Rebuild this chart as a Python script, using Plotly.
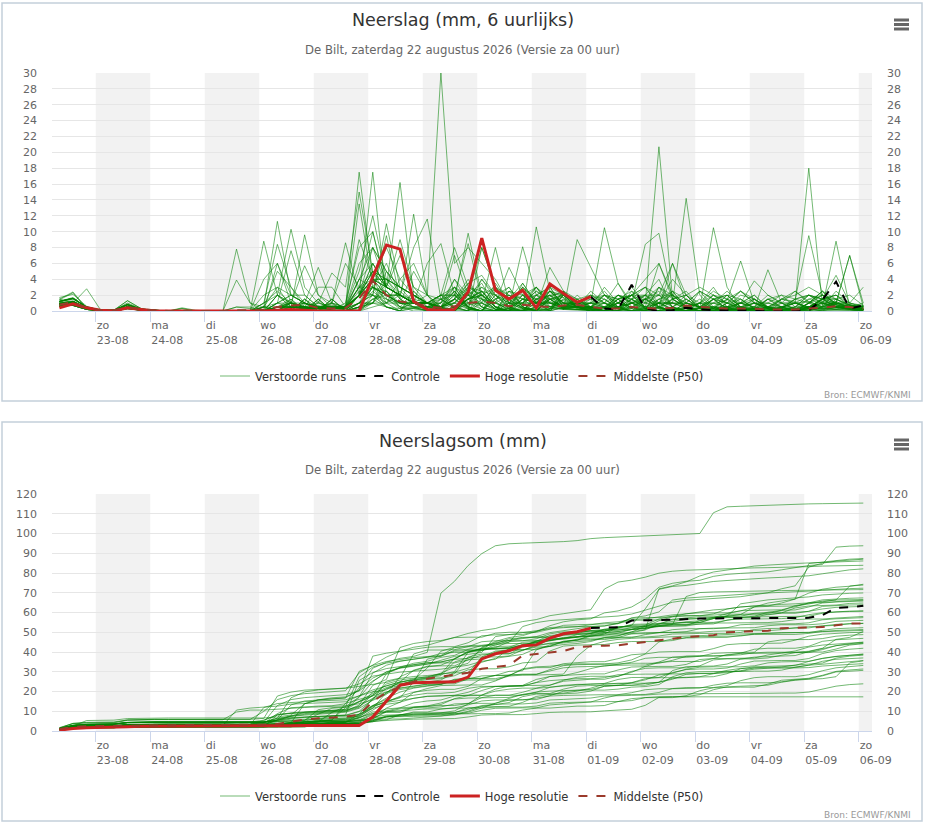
import numpy as np
import pandas as pd
import plotly.graph_objects as go
from plotly.subplots import make_subplots

# 6-hourly steps (local time), first step 22-08 08:00
times = pd.date_range("2026-08-22 08:00", periods=60, freq="6h")
day_ticks = pd.date_range("2026-08-23", "2026-09-06", freq="D")
tick_labels = ["zo<br>23-08", "ma<br>24-08", "di<br>25-08", "wo<br>26-08", "do<br>27-08",
               "vr<br>28-08", "za<br>29-08", "zo<br>30-08", "ma<br>31-08", "di<br>01-09",
               "wo<br>02-09", "do<br>03-09", "vr<br>04-09", "za<br>05-09", "zo<br>06-09"]
shaded_days = ["2026-08-23", "2026-08-25", "2026-08-27", "2026-08-29",
               "2026-08-31", "2026-09-02", "2026-09-04", "2026-09-06"]

# ensemble members, mm per 6 hours
m01 = [0.9, 1.1, 0.4, 0.1, 0, 0.5, 0.2, 0.1, 0, 0, 0, 0, 0,
       0, 0, 0.5, 5, 3, 0.5, 0.3, 0.2, 1,
       8, 10, 3, 2, 1, 2,
       30, 6, 8, 6, 4, 1, 0.3, 0.2, 0.3, 0.3, 0.5,
       1, 0.5, 0.3, 0.5, 0.2, 0.3, 0.2, 0.3, 0.3, 10.5, 3, 0.3, 0.3, 0.3, 0.2, 0.2, 0.2, 0.1, 0.2, 0.1, 0]
m02 = [1.2, 1.6, 0.5, 0.1, 0.1, 0.8, 0.2, 0, 0, 0, 0, 0, 0,
       0, 0, 1, 2.5, 1, 0.5, 0.5, 0.3, 0.5,
       4, 3, 6, 2, 1, 0.5,
       2, 3, 2, 8, 3, 2, 1, 2, 3, 2, 1,
       0.5, 3, 1, 2, 4, 6, 2, 1, 0.5, 2, 1, 0.5, 0.3, 0.5, 1, 1, 1.2, 0.5, 8.8, 0.5, 0.2]
m03 = [1.5, 1.0, 2.8, 0.2, 0, 0.8, 0.2, 0.1, 0, 0, 0, 0, 0,
       0, 0, 0, 0.5, 1, 5.7, 2, 1, 0.5,
       3, 5, 4, 3, 2, 1,
       2, 1, 3, 2, 1, 0.5, 8.1, 2, 1, 0.5, 0.5,
       0.5, 0.5, 0.3, 1, 2, 2, 2, 1, 0.5, 0.5, 0.3, 0.5, 1, 1, 2, 1.5, 9.5, 2, 1, 0.5, 0.5]
m04 = [0.6, 0.8, 0.3, 0, 0, 0.4, 0.1, 0.1, 0, 0, 0, 0, 0,
       0, 0, 0.5, 3, 2, 1, 0.5, 0.5, 0.5,
       2, 6, 3, 2, 1, 0.5,
       1, 4, 2, 3, 2, 1, 1, 3, 1, 1, 0.5,
       1, 2, 1, 2, 1, 20.7, 1.5, 2, 3, 2, 1, 1, 1, 0.5, 0.5, 0.3, 0.3, 0.2, 0.5, 0.2, 0.1]
m05 = [1.7, 2.1, 0.6, 0.1, 0.1, 1.0, 0.3, 0, 0, 0, 0, 0, 0,
       0, 0, 4, 6, 2, 1, 0.5, 0.5, 0.5,
       9, 4, 4, 3, 2, 1,
       2, 2, 2, 1.5, 1, 2, 1.5, 1, 2, 1, 1,
       1, 10.5, 3.5, 1, 1.5, 2, 1, 0.5, 0.3, 0.3, 0.2, 0.2, 0.2, 0.1, 0.1, 0.1, 0.3, 0.3, 0.2, 0.2, 0]
m06 = [1.0, 1.3, 0.4, 0.1, 0, 0.6, 0.2, 0.1, 0, 0, 0, 0, 0,
       0.5, 0.3, 0, 1, 2, 2, 0.5, 0.5, 0.5,
       6, 8, 5, 2, 1.5, 1,
       0.5, 1.5, 3.5, 1.5, 0.3, 0, 1, 2.5, 1.2, 0.5, 0.5,
       0.5, 0.5, 1, 2, 2, 1, 1, 1, 0.5, 0.5, 0.5, 1, 3.8, 2, 1, 1, 18, 0.7, 1, 0.5, 0.3]
m07 = [1.2, 1.7, 0.5, 0.1, 0.1, 0.7, 0.2, 0, 0, 0, 0, 0, 0,
       0, 0, 0, 2, 1, 0.5, 0.5, 0.5, 0.5,
       2, 4, 3, 9, 3, 2,
       0.5, 0, 3, 2.5, 0.5, 0, 3.5, 1, 2.5, 0.5, 1,
       2, 1, 2, 1, 8.4, 9.8, 1.5, 0.5, 1, 1, 0.5, 0.5, 0.3, 0.5, 0.3, 0.3, 0.5, 1, 1, 1, 0.5]
m08 = [0.6, 0.9, 0.3, 0, 0, 0.4, 0.1, 0, 0, 0.4, 0.1, 0, 0,
       7.8, 1, 0.5, 0.5, 1, 0.3, 0.3, 0.3, 0.3,
       3, 2, 1, 4, 6, 2,
       0.5, 3, 0.5, 4, 2, 0.3, 0, 1.5, 2, 0.2, 2,
       0.5, 2, 1.5, 0, 0, 3, 2, 0.5, 0, 1, 2.5, 1, 0.5, 0, 1.5, 2, 3, 2, 1, 0.5, 1]
m09 = [0.9, 1.0, 0.4, 0.1, 0, 0.5, 0.2, 0, 0, 0, 0, 0, 0,
       0, 0, 8.8, 2, 0.5, 0.5, 0.3, 0.3, 0.3,
       2, 3, 2, 2, 1, 1,
       2, 8, 3, 2, 3, 1, 1, 1, 2, 1, 1,
       1, 0.5, 1, 3, 1, 2, 6, 1, 0.5, 0.5, 0.5, 0.5, 0.3, 0.3, 0.2, 0.2, 0.5, 0.5, 0.5, 0.3, 0.2]
m10 = [1.5, 2.4, 0.3, 0, 0.1, 1.3, 0.3, 0, 0, 0, 0, 0, 0,
       0, 0, 0.5, 11.3, 2, 1, 0.3, 0.3, 0.3,
       1, 1, 1, 2, 1, 0.5,
       0.5, 1.5, 9.8, 2, 0.2, 0, 1, 2.5, 1.5, 1.3, 0.5,
       0.5, 0.5, 0.5, 1, 0.5, 1, 1, 14.2, 2, 0.3, 0.2, 0.2, 0.1, 0.1, 0.1, 0.1, 0.1, 0.1, 0.1, 0.1, 0]
m11 = [1.1, 1.5, 0.5, 0.1, 0.1, 0.8, 0.3, 0.1, 0, 0, 0, 0, 0,
       0, 0, 0, 2, 10.3, 3, 1, 0.5, 0.5,
       2, 4, 1, 1, 0.5, 0.5,
       0.5, 1, 1, 2, 1, 5.5, 2, 1, 1, 1, 1,
       1, 1, 0.5, 1, 1, 1, 1, 1, 0.5, 1, 1.3, 6.3, 1, 1, 0.5, 0.5, 0.5, 1, 0.5, 0.3, 0.2]
m12 = [0.8, 1.2, 0.4, 0.1, 0, 0.5, 0.2, 0, 0, 0, 0, 0, 0,
       0, 0, 0, 0.5, 0.5, 9.6, 2, 0.5, 0.5,
       4, 6, 3, 2, 1, 1,
       2, 2, 1, 1, 8, 1, 1, 1, 1, 0.5, 0.5,
       1, 1, 0.5, 1, 0.5, 1, 1, 0.5, 1, 1, 0.5, 1, 0.5, 0.5, 0.3, 0.3, 0.5, 0.5, 1, 7, 0.5]
m13 = [0.8, 0.7, 0.2, 0, 0, 0.3, 0.1, 0, 0, 0, 0, 0, 0,
       0, 0, 0, 0.5, 0.5, 0.5, 1, 4.8, 3,
       15, 5, 2, 1, 1, 1,
       0.5, 2.5, 0.3, 0, 1.5, 3, 0.5, 0.2, 0, 1.5, 0.5,
       0.2, 1, 3.5, 0.5, 0, 1, 2.5, 0.3, 0, 0.5, 2, 1.5, 0.2, 0, 0.3, 1.5, 2, 1.5, 0.5, 0.3, 0.2]
m14 = [1.0, 1.2, 0.4, 0.1, 0, 0.5, 0.2, 0.1, 0, 0, 0, 0, 0,
       0, 0, 1, 8.4, 3, 1, 0.5, 0.5, 0.5,
       2, 17.5, 1.5, 1, 1, 1,
       0.3, 0, 2, 3.5, 0.5, 0, 0.2, 1.5, 2, 0.3, 0.2,
       0.2, 0, 1.5, 2.5, 0.3, 0, 0.5, 1.5, 0.4, 0, 0, 1, 2, 0.3, 0, 0.2, 1, 1.5, 0.5, 0.2, 0.1]
m15 = [1.3, 1.6, 0.5, 0.1, 0.1, 0.8, 0.2, 0, 0, 0, 0, 0, 0,
       0, 0, 0, 1, 7.6, 2, 0.5, 0.5, 0.5,
       13.5, 3, 2, 1, 1, 0.5,
       0.5, 4, 1, 0.2, 0, 2.5, 1.5, 0.3, 0, 2, 0.5,
       0, 0.3, 2, 1, 0.2, 3, 1.5, 0.3, 0, 0.2, 0.5, 0, 0, 0.3, 1.5, 2.5, 1.2, 0.5, 0.2, 0.5, 0.3]
m16 = [0.9, 1.1, 0.4, 0.1, 0, 0.6, 0.2, 0, 0, 0, 0, 0, 0,
       0, 0, 0, 0.5, 0.5, 1, 5.5, 1, 0.5,
       5, 12, 4, 2, 1, 1,
       2, 0.5, 0, 1, 3, 0.5, 0, 0.3, 2.5, 1.7, 0.5,
       0.3, 2, 0.5, 0, 0, 1, 0.3, 0, 2.5, 1.5, 0.2, 0, 0.5, 2, 1, 0.2, 1.5, 2, 0.5, 0.3, 0.2]
m17 = [0.7, 0.8, 0.3, 0, 0, 0.4, 0.1, 0.1, 0, 0, 0, 0, 0,
       0, 0, 0, 0.5, 0.5, 0.5, 0.5, 1, 8.6,
       2, 2, 11, 3, 1, 1,
       0.5, 0, 1.5, 0.5, 3.5, 1, 0.2, 0, 1.8, 2.5, 0.5,
       2.5, 1, 0.2, 0, 1.5, 3, 0.5, 0, 0.3, 2, 1.5, 0.3, 0, 0, 1, 2.5, 1, 0.3, 0.2, 0.8, 0.2]
m18 = [1.2, 1.5, 0.5, 0.1, 0.1, 0.9, 0.2, 0, 0, 0, 0, 0, 0,
       0, 0, 0, 1, 1, 0.5, 0.3, 0.3, 0.5,
       17.5, 4, 2, 1, 1, 1,
       0.3, 1.5, 4, 1, 0.2, 0, 2, 1.5, 0.5, 1.5, 0.5,
       0.5, 0, 0, 2, 3, 0.5, 0, 0.3, 1, 2, 0.5, 0, 0.2, 1.5, 0.5, 0, 1, 2.5, 0.5, 0.2, 0.1]
m19 = [0.9, 1.2, 0.4, 0.1, 0, 0.5, 0.2, 0.1, 0, 0, 0, 0, 0,
       0, 0, 2, 3, 0.5, 0.3, 0.3, 0.3, 0.3,
       3, 10, 3, 16.2, 2, 1,
       0.5, 1.5, 0.2, 0, 2, 0.5, 0, 0, 1.5, 2, 0.3,
       0.2, 0, 0.5, 1.5, 0.3, 0, 0, 1, 0.5, 0, 0, 0.3, 1.5, 0.5, 0, 0, 0.5, 1.2, 0.8, 0.3, 0.2]
m20 = [1.4, 2.3, 0.3, 0, 0.1, 1.3, 0.3, 0, 0, 0, 0, 0, 0,
       3.9, 1, 0, 0.5, 0.5, 0.3, 0.3, 0.3, 0.3,
       1, 2, 9.5, 1.5, 12.2, 2,
       0, 0.2, 1.5, 2.5, 0.5, 0, 0, 1, 2.5, 1, 0.3,
       0, 0, 1.5, 2, 0.3, 0, 0.2, 0.5, 0, 0, 1, 1.5, 0.3, 0, 0, 0, 0.3, 1.5, 0.7, 0.2, 0.1]
m21 = [0.9, 1.0, 0.4, 0.1, 0, 0.5, 0.2, 0, 0, 0.3, 0, 0, 0,
       0, 0, 0, 2, 1, 0.5, 0.3, 0.3, 0.3,
       2, 3, 2, 2, 8, 11.6,
       1.5, 3, 0.5, 0, 0, 1, 2.5, 0.5, 3, 0.5, 0.5,
       1.5, 0.5, 0, 0, 0.5, 1.5, 0.5, 0, 0, 0.3, 2, 0.5, 0, 0, 0.2, 0.5, 1.5, 1, 0.5, 0.3, 0.2]
m22 = [1.2, 1.6, 0.4, 0.1, 0.1, 0.8, 0.2, 0, 0, 0, 0, 0, 0,
       0, 0, 0, 1, 2, 1, 0.5, 0.5, 0.5,
       2, 8, 3, 2, 1, 6,
       8.5, 2, 0.3, 0, 1.5, 2.5, 0.5, 0, 0.2, 2, 1,
       0.5, 0, 0, 1.5, 0.5, 0, 0, 0.3, 1, 0.5, 0, 0, 0, 0.2, 0.5, 1, 0.3, 0, 0.5, 0.5, 0.3]
m23 = [0.6, 0.8, 0.3, 0, 0, 0.4, 0.1, 0, 0, 0.3, 0, 0, 0,
       0, 0, 0, 0, 1, 1, 0.5, 0.5, 0.5,
       2, 5, 3, 7, 3, 1,
       1, 7, 2, 0.5, 0, 0.5, 3, 1.5, 0.3, 2.5, 0.7,
       2, 1, 0, 0, 0.3, 0.5, 1.5, 0.5, 0, 0, 0.5, 1.5, 0.3, 0, 0, 0.2, 0.5, 1.5, 0.5, 0.3, 0.3]
m24 = [1.0, 1.1, 0.4, 0.1, 0, 0.5, 0.2, 0, 0, 0, 0, 0, 0,
       0, 0, 0.5, 1, 0.5, 0.3, 0.3, 0.3, 0.3,
       1, 4, 8, 4, 2, 1,
       0.5, 2, 8.5, 1.5, 0.2, 0, 1.5, 3, 0.5, 1, 0.8,
       0.3, 0, 1, 2, 0.5, 0, 0, 0.5, 1.5, 0.3, 0, 0, 0.2, 1, 0.5, 0, 0, 0.5, 1.2, 0.3, 0.2]
m25 = [0.8, 0.7, 0.2, 0, 0, 0.3, 0.1, 0, 0, 0, 0, 0, 0,
       0, 0, 0, 0.5, 0.5, 0.5, 0.3, 0.3, 0.3,
       4, 8, 5, 3, 2, 1,
       1.5, 0.5, 0, 8, 3, 0.5, 0, 2, 1.5, 0.5, 1.5,
       0.5, 0, 0, 0.3, 1.5, 1, 0.2, 0, 0, 0.5, 0.3, 0, 0, 0, 0.5, 1, 0.5, 0.2, 0.5, 0.8, 0.2]
m26 = [0.9, 1.2, 0.4, 0.1, 0, 0.5, 0.2, 0, 0, 0, 0, 0, 0,
       0, 0, 0, 0, 0.5, 1, 0.3, 0.3, 0.3,
       2, 5, 4, 3, 2, 1,
       1, 2.5, 0.5, 0, 1.5, 2, 0.3, 10.6, 2.5, 1, 0.7,
       0.5, 1.5, 0.3, 0, 0, 0.5, 1, 0.3, 0, 0, 0, 0.5, 1.5, 0.5, 0, 0, 0.3, 1, 0.8, 0.3, 0.2]
m27 = [1.2, 1.6, 0.5, 0.1, 0.1, 0.8, 0.2, 0, 0, 0, 0, 0, 0,
       0, 0, 0, 0, 0.5, 0.5, 3, 3, 0.5,
       3, 4, 3, 2, 1, 1,
       0.5, 1.5, 3, 0.5, 0, 1, 2, 0.5, 5.5, 2.5, 0.5,
       0, 0.3, 1, 0.5, 0, 0, 0.5, 1.5, 0.5, 0, 0, 0.3, 1, 0.5, 0.2, 0, 0, 1.2, 0.8, 0.3, 0.2]
m28 = [0.9, 1.1, 0.4, 0.1, 0, 0.5, 0.2, 0, 0, 0, 0, 0, 0,
       0, 0, 0, 0.5, 0.5, 0.3, 0.3, 1, 6,
       3, 3, 2, 2, 1, 1,
       0, 1.5, 0.5, 0, 0, 2, 0.5, 0, 0.3, 0.2, 9,
       5.6, 2, 1, 0.5, 0.3, 0.3, 0.3, 0.3, 0.3, 0.3, 0.3, 0.3, 0.1, 0.1, 0.1, 0.1, 0.3, 0.3, 0.3, 0.2, 0.1]
m29 = [0.6, 0.8, 0.3, 0, 0, 0.4, 0.1, 0, 0, 0, 0, 0, 0,
       0, 0, 0, 6, 1, 0.5, 0.3, 0.3, 0.3,
       2, 4, 3, 2, 1, 1,
       0.3, 0, 2.5, 1.5, 0.2, 0, 3, 1, 0, 2, 0.5,
       0.5, 0, 1.5, 2, 0.5, 6, 1.5, 0.5, 0, 0, 0.3, 1, 0.5, 0, 0, 0, 0.5, 1, 0.5, 0.3, 0.2]
m30 = [1.0, 1.1, 0.4, 0.1, 0, 0.5, 0.2, 0, 0, 0, 0, 0, 0,
       0, 0, 1, 2, 0.5, 0.3, 0.3, 0.3, 0.3,
       2, 6, 3, 2, 1, 1,
       0.5, 2.5, 0.5, 0, 0, 1.5, 3.5, 1, 0.3, 0.7, 0.5,
       0, 0, 0.5, 1.5, 3, 1, 0.2, 0, 0, 1.5, 2, 0.5, 0, 0, 0.3, 1.5, 2, 1, 0.5, 0.3, 0.2]
m31 = [0.8, 0.7, 0.2, 0, 0, 0.3, 0.1, 0, 0, 0, 0, 0, 0,
       0.5, 0.5, 0, 0, 1.2, 0.3, 0, 0, 0,
       2, 4, 4, 3, 2, 1,
       0.5, 0, 1.5, 4, 1.5, 0.3, 0, 0.2, 2.5, 2, 0.5,
       0.2, 0, 0, 1, 2, 0.5, 0, 0, 0.5, 1.5, 0.3, 0, 0.3, 5.2, 1, 0.2, 0, 0.5, 1.2, 0.5, 0.3]
m32 = [0.9, 1.1, 0.4, 0.1, 0, 0.5, 0.2, 0, 0, 0, 0, 0, 0,
       0, 0, 0, 0, 0, 1.5, 0.4, 0, 0,
       2, 5, 3, 2, 1, 1,
       0, 0.5, 2, 1, 0, 0, 0.5, 3, 1.5, 0.5, 1.5,
       2, 1.5, 0.3, 0, 0, 1.5, 2.5, 0.5, 0, 0, 0.5, 1, 2, 0.5, 0, 0, 1, 2.5, 0.8, 0.5, 0.2]
m33 = [1.2, 1.6, 0.5, 0.1, 0.1, 0.8, 0.2, 0, 0, 0, 0, 0, 0,
       0, 0, 0, 0.5, 1, 0, 0, 1.5, 0,
       1, 3, 2, 1, 5, 2,
       1.5, 0.3, 0, 0, 2, 3, 0.5, 0, 1.5, 1.7, 0.5,
       0.3, 0, 1, 0.5, 0, 0, 1.5, 2, 0.3, 0, 0, 0.5, 1, 0.3, 0, 0, 0.5, 1.5, 4.5, 1, 3]
m34 = [0.9, 1.1, 0.4, 0.1, 0, 0.5, 0.2, 0, 0, 0, 0, 0, 0,
       0, 0, 0.5, 0, 0, 0, 1.5, 0, 0,
       0.5, 3, 2.5, 0.5, 2.5, 1,
       0.5, 2, 0.5, 0, 3, 1.5, 0.3, 0, 0.2, 2.5, 1.5,
       0.5, 0, 0, 2.5, 1.5, 0.3, 0, 0, 1, 3, 0.5, 0, 0, 0.5, 1.5, 1.2, 0.3, 0, 1.5, 2, 0.7]
m35 = [0.6, 0.8, 0.3, 0, 0, 0.4, 0.1, 0.1, 0, 0, 0, 0, 0,
       0, 0, 0, 0, 0, 0.5, 0, 0.9, 0,
       0, 2, 1.5, 0.3, 1, 0.2,
       0.5, 1, 3.5, 4.5, 2, 1, 0.5, 0, 1.5, 2, 0.5,
       0.5, 0, 1.5, 2, 3, 2, 0.5, 0, 0, 1.5, 2, 0.5, 0, 0, 0.3, 1, 2, 1, 0.5, 0.7, 0.3]
m36 = [0.9, 1.0, 0.4, 0.1, 0, 0.5, 0.2, 0, 0, 0, 0, 0, 0,
       0, 0, 0, 0, 0, 0, 0.5, 1, 0,
       1, 1, 5, 3, 2, 1,
       0, 0.5, 1.5, 2.5, 0.5, 0, 0, 2, 3, 0.5, 0.5,
       0.3, 0, 2, 1.5, 0.3, 0, 0, 1, 2.5, 0.5, 0, 0, 0.3, 1.5, 1, 0.2, 0, 1.5, 2, 1, 0.7]
m37 = [0.8, 0.7, 0.2, 0, 0, 0.3, 0.1, 0, 0, 0, 0, 0, 0,
       0, 0, 0, 0.5, 1.5, 0, 0, 0, 0,
       0.5, 2.5, 1, 0, 1.5, 0,
       1.5, 0.5, 0, 0, 2.5, 1.5, 0.3, 0, 2, 2.2, 0.5,
       0.5, 1.5, 0.5, 0, 1, 0.5, 6, 2, 0.3, 0, 1, 2.5, 1, 0.3, 0, 0.5, 2, 1.5, 1.5, 0.7, 0.5]
m38 = [1.0, 1.2, 0.4, 0.1, 0, 0.5, 0.2, 0, 0, 0, 0, 0, 0,
       0, 0, 0, 0, 1, 0, 1.2, 0, 0,
       1, 3, 0.5, 0, 2, 0.5,
       0.3, 0, 1, 3, 1.2, 0, 0, 1.5, 2.5, 1, 0.5,
       0, 0.5, 2, 1, 0, 0, 2.5, 1.5, 0.3, 0, 0.5, 2, 1.5, 0.3, 0, 0, 1, 2.5, 1.5, 0.7, 0.5]
m39 = [0.6, 0.8, 0.3, 0, 0, 0.4, 0.1, 0, 0, 0, 0, 0, 0,
       0, 0, 0, 0, 0, 1.5, 0, 0, 0,
       0, 1.5, 2.5, 0.5, 0, 0,
       0, 1, 2.5, 0.5, 0, 0.3, 2, 3, 1, 0.2, 0.5,
       1, 2.5, 0.5, 0, 0, 1.5, 2, 0.5, 0, 0.3, 1.5, 2.5, 1, 0.2, 0, 0.5, 2, 1.5, 1, 0.8, 0.5]
m40 = [0.9, 1.1, 0.4, 0.1, 0, 0.5, 0.2, 0, 0, 0, 0, 0, 0,
       0, 0, 0, 0, 0, 0, 0, 0.7, 0.5,
       2.5, 2, 0.5, 0, 2.5, 0.5,
       1, 3, 1.5, 0.2, 0, 0, 1.5, 2, 0.5, 0.8, 0.5,
       0.5, 0, 0, 0.5, 1.5, 2.5, 0.5, 0, 0, 0.3, 1.5, 1, 0.2, 0, 0.5, 1, 0.5, 0.5, 2.5, 1, 0.5]
m41 = [1.2, 1.6, 0.5, 0.1, 0.1, 0.8, 0.2, 0, 0, 0, 0, 0, 0,
       0, 0, 0, 0.5, 0, 0, 1.5, 0, 0,
       2, 4, 2, 1, 1, 1,
       0.5, 0, 0, 2.5, 2, 0.5, 0, 1.5, 1, 0.5, 0.5,
       0, 0.5, 1.5, 0.3, 0, 0, 0.5, 2, 1, 0.2, 0, 0, 0.5, 1.5, 0.5, 0, 0.3, 1.5, 1, 0.5, 0.5]
m42 = [0.9, 1.1, 0.4, 0.1, 0, 0.5, 0.2, 0, 0, 0, 0, 0, 0,
       0, 0, 0, 0, 0.5, 1, 0, 0, 0,
       0.5, 1, 3.5, 1.5, 0.5, 0,
       0.5, 1.5, 0.3, 0, 0, 2.5, 2, 0.5, 0, 2.2, 1.5,
       0.3, 0, 0, 1.5, 2, 0.5, 0, 0, 0.5, 1.5, 1, 0.3, 0, 0, 0.5, 1.5, 1, 0.5, 0.8, 0.5, 0.6]
m43 = [0.6, 0.8, 0.3, 0, 0, 0.4, 0.1, 0, 0, 0, 0, 0, 0,
       0, 0, 0.5, 0, 0, 0, 0, 1.5, 0,
       0, 0.5, 1, 2.5, 1, 0,
       0.2, 0, 1.5, 2, 0.5, 1, 3, 1.3, 0, 0.5, 1,
       1.5, 2, 0.5, 0, 0, 0.5, 1.5, 2.5, 0.5, 0, 0.3, 1, 1.5, 0.3, 0, 0, 1, 2, 1, 0.5, 0.2]
m44 = [0.8, 0.7, 0.2, 0, 0, 0.3, 0.1, 0, 0, 0, 0, 0, 0,
       0, 0, 0, 0, 0, 1.5, 0, 0, 0,
       1, 2, 0.5, 0, 0.3, 0.2,
       0, 0.5, 1.5, 2, 0.5, 0, 0, 0.5, 1.5, 0.3, 0.2,
       0.3, 0, 0, 0.5, 1.5, 0.5, 0, 0, 1, 2.5, 1.5, 0.3, 0, 0.5, 1.5, 1, 0.5, 0.3, 1, 7, 1]
m45 = [0.9, 1.1, 0.4, 0.1, 0, 0.5, 0.2, 0, 0, 0, 0, 0, 0,
       0, 0, 0, 0, 0, 0, 0, 1.5, 0,
       0.5, 1, 4, 1.5, 0.5, 0.5,
       1.5, 2, 0.5, 0, 0, 0.3, 1.5, 1.2, 0.5, 0.3, 0.2,
       0, 0, 0.5, 1, 0.3, 1, 4, 2, 0.5, 0, 0, 0.3, 1, 0.5, 0, 0, 0.3, 0.8, 0.5, 0.5, 0.2]
m46 = [0.6, 0.8, 0.3, 0, 0, 0.4, 0.1, 0, 0, 0, 0, 0, 0,
       0, 0, 0, 0, 1.5, 0, 0, 0, 0,
       0, 1, 2.5, 1, 0.5, 0,
       0.3, 0, 0, 1.5, 1, 0.2, 0, 0, 1.5, 0.5, 0.5,
       0.5, 2, 1.5, 0.3, 0, 1, 2, 0.5, 0, 0, 1, 2.5, 1.5, 0.5, 0, 0, 1, 2, 1.5, 0.5, 0.7]
m47 = [0.8, 0.7, 0.2, 0, 0, 0.3, 0.1, 0, 0, 0, 0, 0, 0,
       0, 0, 0, 0, 0, 0, 1.5, 0, 0,
       0.5, 1.5, 0.5, 0, 0.5, 0.5,
       0.5, 1, 0.2, 0, 0, 0.3, 1.5, 1, 0, 0.5, 0.5,
       0, 0.3, 2, 1.5, 0.5, 0, 0, 1, 2.5, 1.5, 0.3, 0, 0, 1.5, 2, 0.5, 0.5, 1.5, 2, 0.7, 0.5]
m48 = [0.9, 1.1, 0.4, 0.1, 0, 0.5, 0.2, 0, 0, 0, 0, 0, 0,
       0, 0, 0, 0, 0, 0.8, 0.7, 0, 0,
       0.5, 3, 1.5, 0.5, 0.5, 0.5,
       0, 0.5, 1.5, 2, 0.5, 0, 0, 1, 1, 0.3, 0.2,
       0.2, 0, 0, 1, 1.5, 0.5, 0, 0, 0.3, 1.5, 1, 0.2, 0, 0, 0.5, 1, 0.5, 1.5, 2, 0.5, 0.3]
m49 = [0.6, 0.8, 0.3, 0, 0, 0.4, 0.1, 0, 0, 0, 0, 0, 0,
       0, 0, 0, 0, 1, 0.5, 0, 0, 0,
       0, 1.5, 2, 0.5, 0.3, 0.2,
       0.3, 0, 1.5, 2.5, 1, 0.2, 0, 0.5, 1.5, 0.3, 0.2,
       0.5, 1, 0.3, 0, 0.2, 0.5, 0.1, 0, 0, 0.1, 0.1, 0, 0, 0.1, 0.1, 0, 0.5, 1.5, 1.5, 0.8, 0.4]
m50 = [0.8, 0.7, 0.2, 0, 0, 0.3, 0.1, 0, 0, 0, 0, 0, 0,
       0, 0, 0, 0, 0, 0, 1, 0.5, 0,
       0.3, 1, 0.5, 0.3, 0.3, 0,
       0, 0.3, 0.8, 1, 0.2, 0, 0, 0.5, 0.6, 0.2, 0.1,
       0, 0.5, 0.5, 0.3, 2, 4, 0.3, 0, 0, 0, 0, 0, 0, 0, 0, 0, 0, 0, 0, 0, 0]

runs = [m01, m02, m03, m04, m05, m06, m07, m08, m09, m10,
        m11, m12, m13, m14, m15, m16, m17, m18, m19, m20,
        m21, m22, m23, m24, m25, m26, m27, m28, m29, m30,
        m31, m32, m33, m34, m35, m36, m37, m38, m39, m40,
        m41, m42, m43, m44, m45, m46, m47, m48, m49, m50]

# high resolution run (10 days), control run after that
hres_6h = [0.4, 0.9, 0.4, 0.1, 0, 0.4, 0.2, 0, 0, 0, 0, 0, 0,
           0, 0, 0, 0.1, 0.2, 0.1, 0, 0, 0,
           0, 4.3, 8.3, 7.8, 1.2, 0.2,
           0.1, 0.2, 2.4, 9.2, 2.6, 1.5, 2.6, 0.4, 3.4, 2.2, 1.1,
           1.8]
ctrl_6h = [1.8, 0.3, 0.2, 3.3, 0.3, 0, 0.1, 0.4, 0.2, 0.1, 0.1,
           0.1, 0, 0, 0, 0, 0.1, 1.4, 3.7, 0.3, 0.7]

# median of the members
p50_6h = [0.8, 1.1, 0.4, 0.1, 0.1, 0.5, 0.2, 0.1, 0, 0, 0, 0, 0,
          0.1, 0.1, 0.2, 0.5, 0.7, 0.8, 0.4, 0.3, 0.4,
          1.6, 3.8, 2.0, 1.2, 1.0, 0.6,
          0.4, 0.6, 1.0, 1.2, 1.0, 0.6, 0.8, 0.6, 0.5, 0.7, 0.8,
          0.5, 0.3, 0.3, 0.5, 0.4, 0.3, 0.4, 0.7, 0.5, 0.4, 0.3, 0.3, 0.3, 0.2, 0.2, 0.2, 0.3, 0.4, 0.6, 0.5, 0.3]
p50_sum = [1.0, 2.0, 2.4, 2.5, 2.6, 2.8, 2.9, 3.0, 3.0, 3.0, 3.0, 3.0, 3.0,
           3.0, 3.1, 3.2, 3.6, 4.6, 5.8, 6.4, 6.8, 7.2,
           8.2, 15, 19.5, 22.5, 25, 26.5,
           27.5, 28.5, 29.5, 31.5, 32.3, 33.3, 38.2, 39, 39.6, 40.5, 42.5,
           43, 43.2, 43.4, 44.2, 45.3, 46, 47, 47.6, 48, 48.5, 50, 50.2, 50.4, 50.8, 52, 52.2, 52.3, 52.6, 53.5, 54.4, 54.5]

hres_sum = np.cumsum(hres_6h)
ctrl_sum = np.concatenate([[hres_sum[-1]], hres_sum[-1] + np.cumsum(ctrl_6h[1:])])
hres_t = times[:len(hres_6h)]
ctrl_t = times[len(hres_6h) - 1:]

W, H = 929, 826
ML, MR, MT, MB = 52, 57, 73, 95


def px(x):
    return (x - ML) / (W - ML - MR)


def py(y):
    return (H - MB - y) / (H - MT - MB)


GREEN = "rgba(0,128,0,0.55)"
RED = "#cc2222"
P50C = "#9b3a2b"
FONT = "DejaVu Sans"

fig = make_subplots(rows=2, cols=1, specs=[[{"secondary_y": True}], [{"secondary_y": True}]])

for row, leg, series in [(1, "legend", runs), (2, "legend2", [np.cumsum(r) for r in runs])]:
    for i, r in enumerate(series):
        fig.add_trace(go.Scatter(x=times, y=r, mode="lines", name="Verstoorde runs",
                                 line=dict(color=GREEN, width=1), legendgroup="runs" + str(row),
                                 showlegend=(i == 0), legend=leg, hoverinfo="skip"),
                      row=row, col=1)

for row, leg, c, h, p in [(1, "legend", ctrl_6h, hres_6h, p50_6h),
                          (2, "legend2", ctrl_sum, hres_sum, p50_sum)]:
    fig.add_trace(go.Scatter(x=ctrl_t, y=c, mode="lines", name="Controle",
                             line=dict(color="black", width=2, dash="dash"), legend=leg),
                  row=row, col=1)
    fig.add_trace(go.Scatter(x=hres_t, y=h, mode="lines", name="Hoge resolutie",
                             line=dict(color=RED, width=3), legend=leg),
                  row=row, col=1)
    # the median goes on the right-hand axis (same scale) so that axis is drawn
    fig.add_trace(go.Scatter(x=times, y=p, mode="lines", name="Middelste (P50)",
                             line=dict(color=P50C, width=2, dash="dash"), legend=leg),
                  row=row, col=1, secondary_y=True)

xrange = ["2026-08-22 04:45", "2026-09-06 05:50"]
xcommon = dict(range=xrange, domain=[0, 1], tickvals=day_ticks, ticktext=tick_labels,
               ticks="outside", ticklen=10, tickcolor="#ccd6eb", showline=True,
               linecolor="#ccd6eb", showgrid=False, zeroline=False,
               ticklabelposition="outside right", ticklabelstandoff=4,
               tickfont=dict(size=11, color="#666666"))
ycommon = dict(showgrid=True, gridcolor="#e6e6e6", zeroline=False, showline=False,
               tickfont=dict(size=11, color="#666666"))

fig.update_layout(
    xaxis=dict(xcommon, anchor="y"),
    xaxis2=dict(xcommon, anchor="y3"),
    yaxis=dict(ycommon, range=[0, 30], dtick=2, domain=[py(311), 1], ticklabelstandoff=14),
    yaxis2=dict(ycommon, range=[0, 30], dtick=2, overlaying="y", side="right", showgrid=False,
                ticklabelstandoff=14),
    yaxis3=dict(ycommon, range=[0, 120], dtick=10, domain=[0, py(494)], ticklabelstandoff=14),
    yaxis4=dict(ycommon, range=[0, 120], dtick=10, overlaying="y3", side="right", showgrid=False,
                ticklabelstandoff=14),
)

shapes = []
for d in shaded_days:
    d0 = pd.Timestamp(d)
    for xr, yr in [("x", "y domain"), ("x2", "y3 domain")]:
        shapes.append(dict(type="rect", xref=xr, yref=yr, x0=d0, x1=d0 + pd.Timedelta(days=1),
                           y0=0, y1=1, fillcolor="#f2f2f2", line=dict(width=0), layer="below"))

for top, bottom in [(3, 401), (422, 821)]:
    shapes.append(dict(type="rect", xref="paper", yref="paper", x0=px(2), x1=px(922),
                       y0=py(bottom), y1=py(top), line=dict(color="#c3cfda", width=1.5)))

for yy in [20, 24.5, 29, 440, 444.5, 449]:
    shapes.append(dict(type="line", xref="paper", yref="paper", x0=px(894), x1=px(909),
                       y0=py(yy), y1=py(yy), line=dict(color="#666666", width=3)))

subtitle = "De Bilt, zaterdag 22 augustus 2026 (Versie za 00 uur)"
annotations = [
    dict(text="Neerslag (mm, 6 uurlijks)", x=px(463), y=py(20), font=dict(size=17.5, color="#333333")),
    dict(text=subtitle, x=px(462), y=py(50), font=dict(size=11.7, color="#666666")),
    dict(text="Neerslagsom (mm)", x=px(463), y=py(441), font=dict(size=17.5, color="#333333")),
    dict(text=subtitle, x=px(462), y=py(470), font=dict(size=11.7, color="#666666")),
]
for a in annotations:
    a.update(xref="paper", yref="paper", showarrow=False, xanchor="center", yanchor="middle")
for yy in [395, 815]:
    annotations.append(dict(text="Bron: ECMWF/KNMI", xref="paper", yref="paper", x=px(913), y=py(yy),
                            showarrow=False, xanchor="right", yanchor="middle",
                            font=dict(size=9, color="#999999")))

legend_common = dict(orientation="h", x=px(462), xanchor="center", yanchor="middle",
                     font=dict(size=11.5, color="#333333"), bgcolor="rgba(0,0,0,0)")

fig.update_layout(
    width=W, height=H,
    margin=dict(l=ML, r=MR, t=MT, b=MB, autoexpand=False),
    paper_bgcolor="white", plot_bgcolor="white",
    font=dict(family=FONT),
    shapes=shapes, annotations=annotations,
    legend=dict(legend_common, y=py(376)),
    legend2=dict(legend_common, y=py(796)),
    hovermode=False,
)

# the page's default body margin would push the 929x826 figure off the window
fig.write_html("out.html", config={"displayModeBar": False},
               post_script="document.body.style.margin = '0px';")
